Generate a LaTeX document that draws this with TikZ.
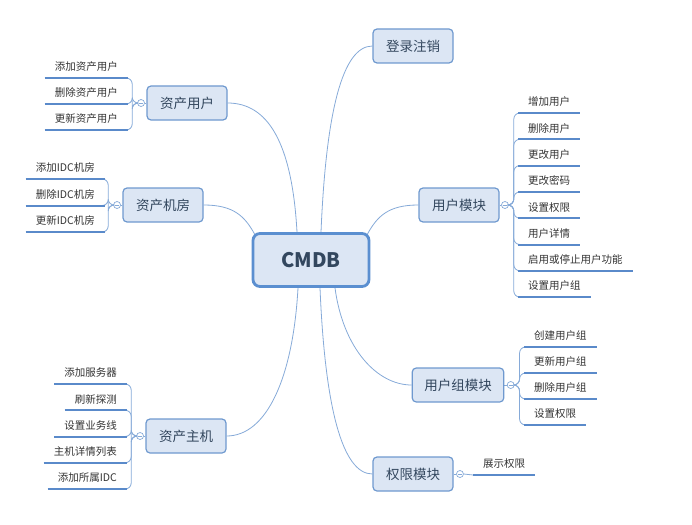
\documentclass[tikz,border=0pt]{standalone}
\usepackage{fontspec}
\usepackage{xcolor}
\usetikzlibrary{positioning,backgrounds}
\newfontfamily\cjk{Noto Sans CJK SC}

\definecolor{boxfill}{HTML}{DCE6F4}
\definecolor{boxline}{HTML}{6F99CF}
\definecolor{rootline}{HTML}{5B8FD0}
\definecolor{linkc}{HTML}{86AAD8}
\definecolor{ulinec}{HTML}{5A8ACA}
\definecolor{boxtext}{HTML}{33475E}

\tikzset{
  root/.style={draw=rootline, fill=boxfill, line width=2.8pt, rounded corners=7pt,
    text=boxtext, font=\cjk\bfseries\fontsize{20}{24}\selectfont,
    minimum width=116pt, minimum height=53pt},
  topic/.style={draw=boxline, fill=boxfill, line width=1.2pt, rounded corners=4pt,
    text=boxtext, font=\cjk\fontsize{13.5}{16}\selectfont,
    minimum width=80pt, minimum height=34pt, inner xsep=12pt},
  leaf/.style={text=black!80, font=\cjk\fontsize{10.5}{12}\selectfont,
    inner xsep=10pt, inner ysep=5pt, text height=9pt, text depth=2pt},
  fold/.style={circle, draw=linkc, fill=white, line width=0.7pt, minimum size=7pt, inner sep=0pt,
    path picture={\draw[linkc, line width=0.6pt] ([xshift=-2pt]path picture bounding box.center)
      -- ([xshift=2pt]path picture bounding box.center);}},
  link/.style={draw=linkc, line width=0.8pt},
  branch/.style={draw=linkc, line width=0.8pt, rounded corners=6pt},
  uline/.style={draw=ulinec, line width=2pt}
}

\begin{document}
\begin{tikzpicture}[x=1pt,y=-1pt]
\useasboundingbox (0,0) rectangle (692,524);

% centre and main topics
\node[root] (cmdb) at (311,260) {CMDB};
\node[topic] (login) at (413,46) {登录注销};
\node[topic] (usr) at (459,205) {用户模块};
\node[topic] (grp) at (458,385) {用户组模块};
\node[topic] (perm) at (413,474) {权限模块};
\node[topic] (au) at (187,103) {资产用户};
\node[topic] (room) at (163,205) {资产机房};
\node[topic] (host) at (186,436) {资产主机};

% fold markers
\node[fold, left=1.5pt of au] (au-f) {};
\node[fold, left=1.5pt of room] (room-f) {};
\node[fold, left=1.5pt of host] (host-f) {};
\node[fold, right=1.5pt of usr] (usr-f) {};
\node[fold, right=2.5pt of grp] (grp-f) {};
\node[fold, right=2.5pt of perm] (perm-f) {};

\begin{scope}[on background layer]
  \draw[link] ([xshift=-14pt]cmdb.north) .. controls +(-5,-90) and +(40,0) .. (au.east);
  \draw[link] ([xshift=3pt,yshift=-2pt]cmdb.north west) .. controls +(-10,-18) and +(30,0) .. (room.east);
  \draw[link] ([xshift=10pt]cmdb.north) .. controls +(5,-120) and +(-30,0) .. (login.west);
  \draw[link] ([xshift=-3pt,yshift=-2pt]cmdb.north east) .. controls +(10,-18) and +(-30,0) .. (usr.west);
  \draw[link] ([xshift=-13pt]cmdb.south) .. controls +(-5,90) and +(40,0) .. (host.east);
  \draw[link] ([xshift=9pt]cmdb.south) .. controls +(5,120) and +(-30,0) .. (perm.west);
  \draw[link] ([xshift=24pt]cmdb.south) .. controls +(8,60) and +(-35,0) .. (grp.west);
  \draw[link] (au.west) -- (au-f);
  \draw[link] (room.west) -- (room-f);
  \draw[link] (host.west) -- (host-f);
  \draw[link] (usr.east) -- (usr-f);
  \draw[link] (grp.east) -- (grp-f);
  \draw[link] (perm.east) -- (perm-f);
\end{scope}

% left leaves
\foreach \t [count=\i] in {添加资产用户,删除资产用户,更新资产用户}{
  \node[leaf, anchor=south east] (au-\i) at (128,{78+26*(\i-1)}) {\t};
  \draw[branch] (au-f.west) -- ++(-5,0) |- (au-\i.south east);
  \draw[uline] (au-\i.south west) -- (au-\i.south east);
}
\foreach \t [count=\i] in {添加IDC机房,删除IDC机房,更新IDC机房}{
  \node[leaf, anchor=south east] (room-\i) at (105,{179+26.5*(\i-1)}) {\t};
  \draw[branch] (room-f.west) -- ++(-5,0) |- (room-\i.south east);
  \draw[uline] (room-\i.south west) -- (room-\i.south east);
}
\foreach \t [count=\i] in {添加服务器,刷新探测,设置业务线,主机详情列表,添加所属IDC}{
  \node[leaf, anchor=south east] (host-\i) at (127,{384+26.25*(\i-1)}) {\t};
  \draw[branch] (host-f.west) -- ++(-5,0) |- (host-\i.south east);
  \draw[uline] (host-\i.south west) -- (host-\i.south east);
}

% right leaves
\foreach \t [count=\i] in {增加用户,删除用户,更改用户,更改密码,设置权限,用户详情,启用或停止用户功能,设置用户组}{
  \node[leaf, anchor=south west] (usr-\i) at (518,{113+26.3*(\i-1)}) {\t};
  \draw[branch] (usr-f.east) -- ++(5,0) |- (usr-\i.south west);
  \draw[uline] (usr-\i.south west) -- (usr-\i.south east);
}
\foreach \t [count=\i] in {创建用户组,更新用户组,删除用户组,设置权限}{
  \node[leaf, anchor=south west] (grp-\i) at (524,{347+26*(\i-1)}) {\t};
  \draw[branch] (grp-f.east) -- ++(5,0) |- (grp-\i.south west);
  \draw[uline] (grp-\i.south west) -- (grp-\i.south east);
}
\node[leaf, anchor=south west] (perm-1) at (473,475) {展示权限};
\draw[branch] (perm-f.east) -- (perm-1.south west);
\draw[uline] (perm-1.south west) -- (perm-1.south east);

\end{tikzpicture}
\end{document}
